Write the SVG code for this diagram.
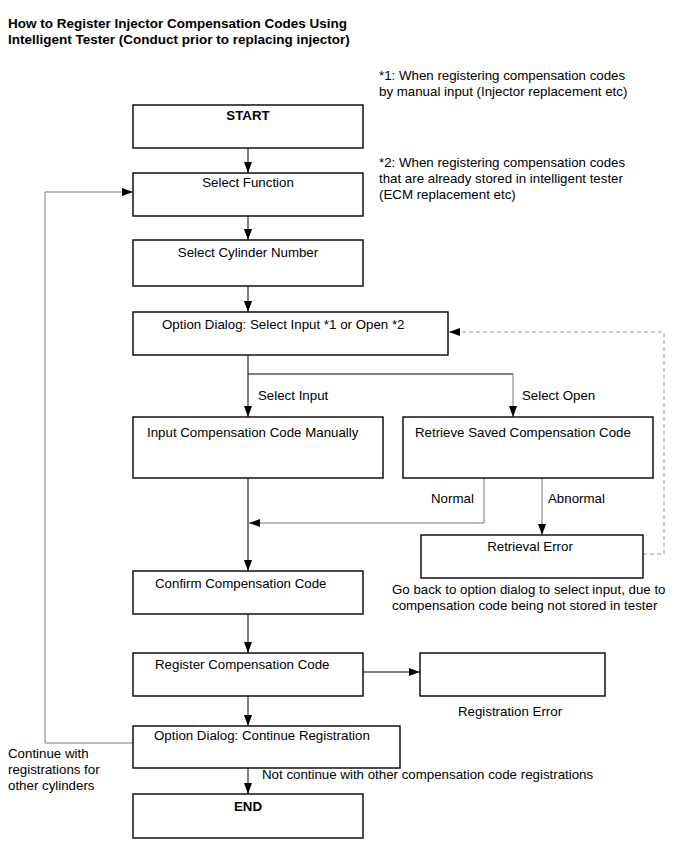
<svg xmlns="http://www.w3.org/2000/svg" width="690" height="854" viewBox="0 0 690 854">
<style>
.box{fill:#fff;stroke:#000;stroke-width:1.4}
.t{font-family:"Liberation Sans",Arial,sans-serif;font-size:13.3px;fill:#000}
.b{font-weight:bold}
.h{font-size:13.5px}
.m{text-anchor:middle}
.ln{fill:none;stroke:#000;stroke-width:1}
.g{stroke:#777}
.d{fill:none;stroke:#999;stroke-width:1;stroke-dasharray:4 3}
</style>
<defs>
<marker id="ah" markerUnits="userSpaceOnUse" markerWidth="11" markerHeight="8" refX="11" refY="4" orient="auto">
<path d="M0,0 L11,4 L0,8 z" fill="#000"/>
</marker>
</defs>
<rect width="690" height="854" fill="#fff"/>
<g id="title">
<text class="t b h" x="8" y="28">How to Register Injector Compensation Codes Using</text>
<text class="t b h" x="8" y="44">Intelligent Tester (Conduct prior to replacing injector)</text>
</g>
<g id="notes">
<text class="t" x="379" y="80">*1: When registering compensation codes</text>
<text class="t" x="379" y="96">by manual input (Injector replacement etc)</text>
<text class="t" x="379" y="167">*2: When registering compensation codes</text>
<text class="t" x="379" y="183">that are already stored in intelligent tester</text>
<text class="t" x="379" y="199">(ECM replacement etc)</text>
</g>
<g id="connectors">
<line class="ln" x1="248" y1="148" x2="248" y2="173" marker-end="url(#ah)"/>
<line class="ln" x1="248" y1="216" x2="248" y2="240" marker-end="url(#ah)"/>
<line class="ln" x1="248" y1="286" x2="248" y2="312" marker-end="url(#ah)"/>
<line class="ln" x1="248" y1="355" x2="248" y2="417" marker-end="url(#ah)"/>
<polyline class="ln" points="248,374 513,374"/>
<line class="ln g" x1="513" y1="374" x2="513" y2="417" marker-end="url(#ah)"/>
<polyline class="d" points="643,554 664,554 664,332 449,332" marker-end="url(#ah)"/>
<line class="ln" x1="248" y1="478" x2="248" y2="571" marker-end="url(#ah)"/>
<polyline class="ln g" points="484,478 484,523 249,523" marker-end="url(#ah)"/>
<line class="ln g" x1="542" y1="478" x2="542" y2="535" marker-end="url(#ah)"/>
<line class="ln" x1="248" y1="614" x2="248" y2="653" marker-end="url(#ah)"/>
<line class="ln" x1="363" y1="672" x2="420" y2="672" marker-end="url(#ah)"/>
<line class="ln" x1="248" y1="696" x2="248" y2="726" marker-end="url(#ah)"/>
<polyline class="ln g" points="133,743 45,743 45,192 133,192" marker-end="url(#ah)"/>
<line class="ln" x1="248" y1="768" x2="248" y2="794" marker-end="url(#ah)"/>
<text class="t" x="258" y="400">Select Input</text>
<text class="t" x="522" y="400">Select Open</text>
<text class="t" x="431" y="503">Normal</text>
<text class="t" x="548" y="503">Abnormal</text>
<text class="t" x="8" y="758">Continue with</text>
<text class="t" x="8" y="774">registrations for</text>
<text class="t" x="8" y="790">other cylinders</text>
<text class="t" x="262" y="779">Not continue with other compensation code registrations</text>
</g>
<g id="start">
<rect class="box" x="133" y="105" width="230" height="43"/>
<text class="t b m" x="248" y="120">START</text>
</g>
<g id="select-function">
<rect class="box" x="133" y="173" width="230" height="43"/>
<text class="t m" x="248" y="187">Select Function</text>
</g>
<g id="select-cylinder">
<rect class="box" x="133" y="240" width="230" height="46"/>
<text class="t m" x="248" y="257">Select Cylinder Number</text>
</g>
<g id="option-input-open">
<rect class="box" x="133" y="312" width="315" height="43"/>
<text class="t" x="162" y="329">Option Dialog: Select Input *1 or Open *2</text>
</g>
<g id="input-manual">
<rect class="box" x="133" y="417" width="250" height="61"/>
<text class="t" x="147" y="437">Input Compensation Code Manually</text>
</g>
<g id="retrieve-saved">
<rect class="box" x="403" y="417" width="250" height="61"/>
<text class="t" x="415" y="437">Retrieve Saved Compensation Code</text>
</g>
<g id="retrieval-error">
<rect class="box" x="421" y="535" width="222" height="43"/>
<text class="t m" x="530" y="551">Retrieval Error</text>
<text class="t" x="392" y="594">Go back to option dialog to select input, due to</text>
<text class="t" x="392" y="610">compensation code being not stored in tester</text>
</g>
<g id="confirm">
<rect class="box" x="133" y="571" width="230" height="43"/>
<text class="t" x="155" y="588">Confirm Compensation Code</text>
</g>
<g id="register">
<rect class="box" x="133" y="653" width="230" height="43"/>
<text class="t" x="155" y="669">Register Compensation Code</text>
</g>
<g id="registration-error">
<rect class="box" x="420" y="653" width="185" height="43"/>
<text class="t m" x="510" y="716">Registration Error</text>
</g>
<g id="option-continue">
<rect class="box" x="133" y="726" width="267" height="42"/>
<text class="t" x="154" y="740">Option Dialog: Continue Registration</text>
</g>
<g id="end">
<rect class="box" x="133" y="794" width="230" height="44"/>
<text class="t b m" x="248" y="811">END</text>
</g>
</svg>
